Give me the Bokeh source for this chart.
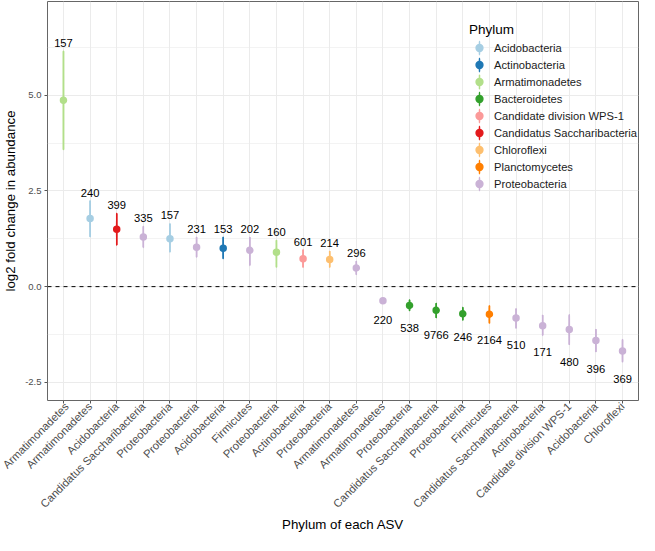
import numpy as np
from bokeh.plotting import figure
from bokeh.models import (ColumnDataSource, FixedTicker, PrintfTickFormatter, Span,
                          Legend, LegendItem, Range1d)
from bokeh.embed import file_html
from bokeh.resources import INLINE

# ---------------- data ----------------
axis_labels = ["Armatimonadetes", "Armatimonadetes", "Acidobacteria",
               "Candidatus Saccharibacteria", "Proteobacteria", "Proteobacteria",
               "Acidobacteria", "Firmicutes", "Proteobacteria", "Actinobacteria",
               "Proteobacteria", "Armatimonadetes", "Armatimonadetes", "Proteobacteria",
               "Candidatus Saccharibacteria", "Proteobacteria", "Firmicutes",
               "Candidatus Saccharibacteria", "Actinobacteria", "Candidate division WPS-1",
               "Acidobacteria", "Chloroflexi"]
phylum = ["Armatimonadetes", "Acidobacteria", "Candidatus Saccharibacteria",
          "Proteobacteria", "Acidobacteria", "Proteobacteria", "Actinobacteria",
          "Proteobacteria", "Armatimonadetes", "Candidate division WPS-1", "Chloroflexi",
          "Proteobacteria", "Proteobacteria", "Bacteroidetes", "Bacteroidetes",
          "Bacteroidetes", "Planctomycetes", "Proteobacteria", "Proteobacteria",
          "Proteobacteria", "Proteobacteria", "Proteobacteria"]
lfc = [4.87, 1.78, 1.50, 1.30, 1.25, 1.03, 1.00, 0.95, 0.90, 0.73, 0.71, 0.49,
       -0.37, -0.49, -0.62, -0.71, -0.72, -0.82, -1.02, -1.12, -1.41, -1.68]
lfc_low = [3.58, 1.30, 1.08, 1.02, 0.90, 0.77, 0.73, 0.55, 0.50, 0.50, 0.50, 0.31,
           -0.43, -0.63, -0.82, -0.875, -0.96, -1.09, -1.275, -1.525, -1.71, -1.975]
lfc_high = [6.15, 2.25, 1.92, 1.58, 1.65, 1.30, 1.30, 1.30, 1.22, 0.97, 0.93, 0.67,
            -0.31, -0.34, -0.43, -0.54, -0.49, -0.57, -0.74, -0.725, -1.11, -1.375]
n_asv = ["157", "240", "399", "335", "157", "231", "153", "202", "160", "601", "214",
         "296", "220", "538", "9766", "246", "2164", "510", "171", "480", "396", "369"]
legend_order = ["Acidobacteria", "Actinobacteria", "Armatimonadetes", "Bacteroidetes",
                "Candidate division WPS-1", "Candidatus Saccharibacteria", "Chloroflexi",
                "Planctomycetes", "Proteobacteria"]
legend_colors = ["#A6CEE3", "#1F78B4", "#B2DF8A", "#33A02C", "#FB9A99", "#E31A1C",
                 "#FDBF6F", "#FF7F00", "#CAB2D6"]
y_ticks = [-2.5, 0.0, 2.5, 5.0]
y_minor = [-1.25, 1.25, 3.75, 6.25]

FONT = "Liberation Sans"
xpos = list(range(1, len(axis_labels) + 1))

p = figure(width=639, height=535, output_backend="svg", toolbar_location=None,
           x_range=Range1d(0.4, len(axis_labels) + 0.6), y_range=Range1d(-2.975, 7.45),
           min_border_left=30, min_border_right=1, min_border_top=1, min_border_bottom=0)
p.background_fill_color = "white"
p.border_fill_color = "white"
p.outline_line_color = "#666666"
p.outline_line_width = 1

# grid
p.xgrid.ticker = FixedTicker(ticks=xpos)
p.xgrid.grid_line_color = "#EBEBEB"
p.xgrid.grid_line_width = 1
p.ygrid.ticker = FixedTicker(ticks=y_ticks, minor_ticks=y_minor)
p.ygrid.grid_line_color = "#EBEBEB"
p.ygrid.grid_line_width = 1
p.ygrid.minor_grid_line_color = "#EBEBEB"
p.ygrid.minor_grid_line_width = 0.6

# axes
for ax in (p.xaxis[0], p.yaxis[0]):
    ax.axis_line_color = None
    ax.major_tick_in = 0
    ax.major_tick_out = 3
    ax.major_tick_line_color = "#555555"
    ax.minor_tick_line_color = None
    ax.major_label_text_font = FONT
    ax.major_label_text_color = "#4D4D4D"
    ax.axis_label_text_font = FONT
    ax.axis_label_text_font_style = "normal"
    ax.axis_label_text_color = "black"
    ax.axis_label_text_font_size = "13.3px"

p.xaxis.ticker = FixedTicker(ticks=xpos)
p.xaxis.major_label_overrides = {i: lab for i, lab in zip(xpos, axis_labels)}
p.xaxis.major_label_orientation = np.pi / 4
p.xaxis.major_label_text_font_size = "11.2px"
p.xaxis.major_label_standoff = 1
p.xaxis.axis_label = "Phylum of each ASV"
p.xaxis.axis_label_standoff = 0

p.yaxis.ticker = FixedTicker(ticks=y_ticks, minor_ticks=y_minor)
p.yaxis.formatter = PrintfTickFormatter(format="%.1f")
p.yaxis.major_label_text_font_size = "9.5px"
p.yaxis.major_label_standoff = 2
p.yaxis.axis_label = "log2 fold change in abundance"
p.yaxis.axis_label_standoff = 4

# zero line
p.add_layout(Span(location=0, dimension="width", line_color="black",
                  line_width=1, line_dash="4 4"))

# point ranges
items = []
for ph, col in zip(legend_order, legend_colors):
    idx = [i for i in range(len(phylum)) if phylum[i] == ph]
    src = ColumnDataSource(dict(
        x=[xpos[i] for i in idx],
        y=[lfc[i] for i in idx],
        lo=[lfc_low[i] for i in idx],
        hi=[lfc_high[i] for i in idx],
        mid=[(lfc_low[i] + lfc_high[i]) / 2 for i in idx],
        h=[lfc_high[i] - lfc_low[i] for i in idx],
    ))
    p.segment(x0="x", y0="lo", x1="x", y1="hi", source=src, line_color=col, line_width=1.5)
    ell = p.ellipse(x="x", y="mid", width=0.1, height="h", width_units="screen",
                    source=src, fill_color=None, line_color=col, line_width=1.5)
    sc = p.scatter(x="x", y="y", source=src, size=6, marker="circle",
                   fill_color=col, line_color=col, line_width=1.5)
    items.append(LegendItem(label=ph, renderers=[ell, sc]))

# count labels
pos_idx = [i for i in range(len(lfc)) if lfc[i] > 0]
neg_idx = [i for i in range(len(lfc)) if lfc[i] <= 0]
pos_src = ColumnDataSource(dict(x=[xpos[i] for i in pos_idx], y=[lfc_high[i] for i in pos_idx],
                                t=[n_asv[i] for i in pos_idx]))
neg_src = ColumnDataSource(dict(x=[xpos[i] for i in neg_idx], y=[lfc_low[i] for i in neg_idx],
                                t=[n_asv[i] for i in neg_idx]))
p.text(x="x", y="y", text="t", source=pos_src, text_align="center",
       text_baseline="alphabetic", y_offset=-8, text_font_size="11.2px",
       text_color="black", text_font={"value": FONT})
p.text(x="x", y="y", text="t", source=neg_src, text_align="center",
       text_baseline="alphabetic", y_offset=17, text_font_size="11.2px",
       text_color="black", text_font={"value": FONT})

legend = Legend(items=items, title="Phylum", location=(422, 208),
                glyph_width=20, glyph_height=17, label_height=17, spacing=0,
                label_standoff=5, padding=0, margin=0, title_standoff=2,
                border_line_color=None, background_fill_alpha=0,
                label_text_font=FONT, label_text_font_size="11.2px",
                label_text_color="#1A1A1A",
                title_text_font=FONT, title_text_font_size="13.5px",
                title_text_font_style="normal", title_text_color="black")
p.add_layout(legend)

open("out.html", "w").write(file_html(p, INLINE))
